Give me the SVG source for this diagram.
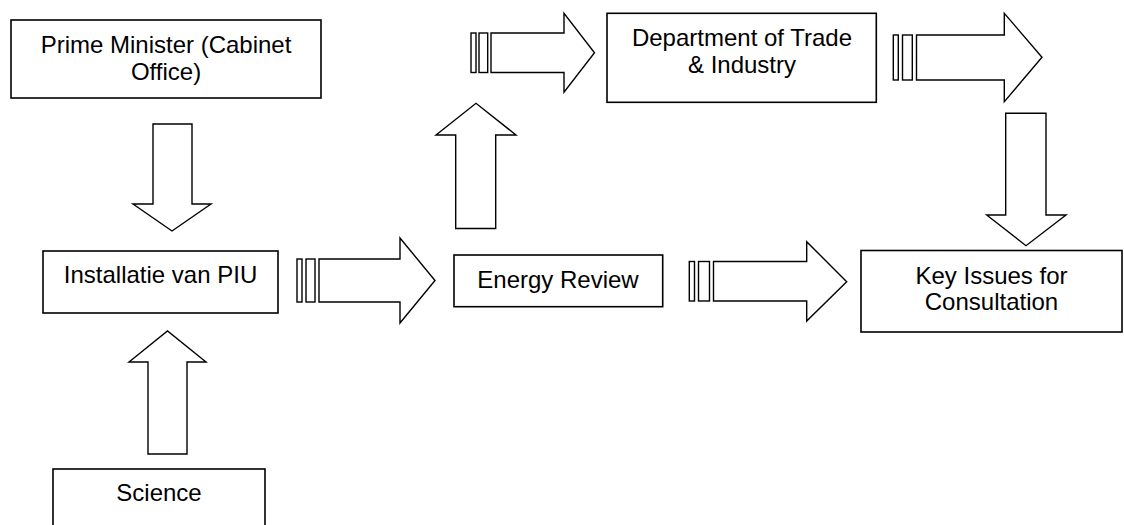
<svg xmlns="http://www.w3.org/2000/svg" width="1124" height="525" viewBox="0 0 1124 525">
<style>
.box{fill:#fff;stroke:#000;stroke-width:1.6}
.arr{fill:#fff;stroke:#000;stroke-width:1.4;stroke-linejoin:miter}
.t{font-family:"Liberation Sans",Arial,sans-serif;font-size:24px;fill:#000;text-anchor:middle}
</style>
<rect width="1124" height="525" fill="#fff"/>
<g id="connectors">
  <!-- PM -> Installatie (down) -->
  <path class="arr" d="M153,124 H192 V204 H211 L172,231 L133,204 H153 Z"/>
  <!-- Science -> Installatie (up) -->
  <path class="arr" d="M148,454 V362 H129 L167.5,331 L206,362 H187 V454 Z"/>
  <!-- Installatie -> Energy Review (striped right) -->
  <rect class="arr" x="297" y="259" width="5" height="43"/>
  <rect class="arr" x="306" y="259" width="9" height="43"/>
  <path class="arr" d="M319,259 H400 V238 L435,280.5 L400,323 V302 H319 Z"/>
  <!-- Energy Review -> up -->
  <path class="arr" d="M455.7,228.5 V135 H436 L476,103.3 L516,135 H495.7 V228.5 Z"/>
  <!-- up -> DTI (striped right) -->
  <rect class="arr" x="471" y="33" width="5" height="39.5"/>
  <rect class="arr" x="479" y="33" width="8.7" height="39.5"/>
  <path class="arr" d="M491,33 H564 V13.3 L594.5,52.7 L564,92.3 V72.5 H491 Z"/>
  <!-- DTI -> right (striped) -->
  <rect class="arr" x="893.3" y="35" width="5" height="45"/>
  <rect class="arr" x="902.5" y="35" width="9.8" height="45"/>
  <path class="arr" d="M916.5,35 H1004.3 V13.3 L1042,57.3 L1004.3,101.7 V80 H916.5 Z"/>
  <!-- down -> Key Issues -->
  <path class="arr" d="M1005.7,113.3 H1046 V215 H1066 L1026,245.7 L986.7,215 H1005.7 Z"/>
  <!-- Energy Review -> Key Issues (striped right) -->
  <rect class="arr" x="689.3" y="261.5" width="5.2" height="39.5"/>
  <rect class="arr" x="698.5" y="261.5" width="11" height="39.5"/>
  <path class="arr" d="M713.5,261.5 H806.7 V241.7 L846.7,281.7 L806.7,321 V301 H713.5 Z"/>
</g>
<g id="pm">
  <rect class="box" x="11" y="20" width="310" height="78"/>
  <text class="t" x="166" y="53">Prime Minister (Cabinet</text>
  <text class="t" x="166" y="80">Office)</text>
</g>
<g id="installatie">
  <rect class="box" x="43" y="251" width="235" height="62"/>
  <text class="t" x="160.5" y="283">Installatie van PIU</text>
</g>
<g id="science">
  <rect class="box" x="53" y="469" width="212" height="70"/>
  <text class="t" x="159" y="501">Science</text>
</g>
<g id="energy">
  <rect class="box" x="454" y="255" width="208.7" height="51.7"/>
  <text class="t" x="558" y="288">Energy Review</text>
</g>
<g id="dti">
  <rect class="box" x="607" y="13.3" width="269.3" height="89"/>
  <text class="t" x="742" y="46">Department of Trade</text>
  <text class="t" x="742" y="73">&amp; Industry</text>
</g>
<g id="keyissues">
  <rect class="box" x="861" y="250.5" width="261" height="81.5"/>
  <text class="t" x="991.5" y="283.5">Key Issues for</text>
  <text class="t" x="991.5" y="310">Consultation</text>
</g>
</svg>
